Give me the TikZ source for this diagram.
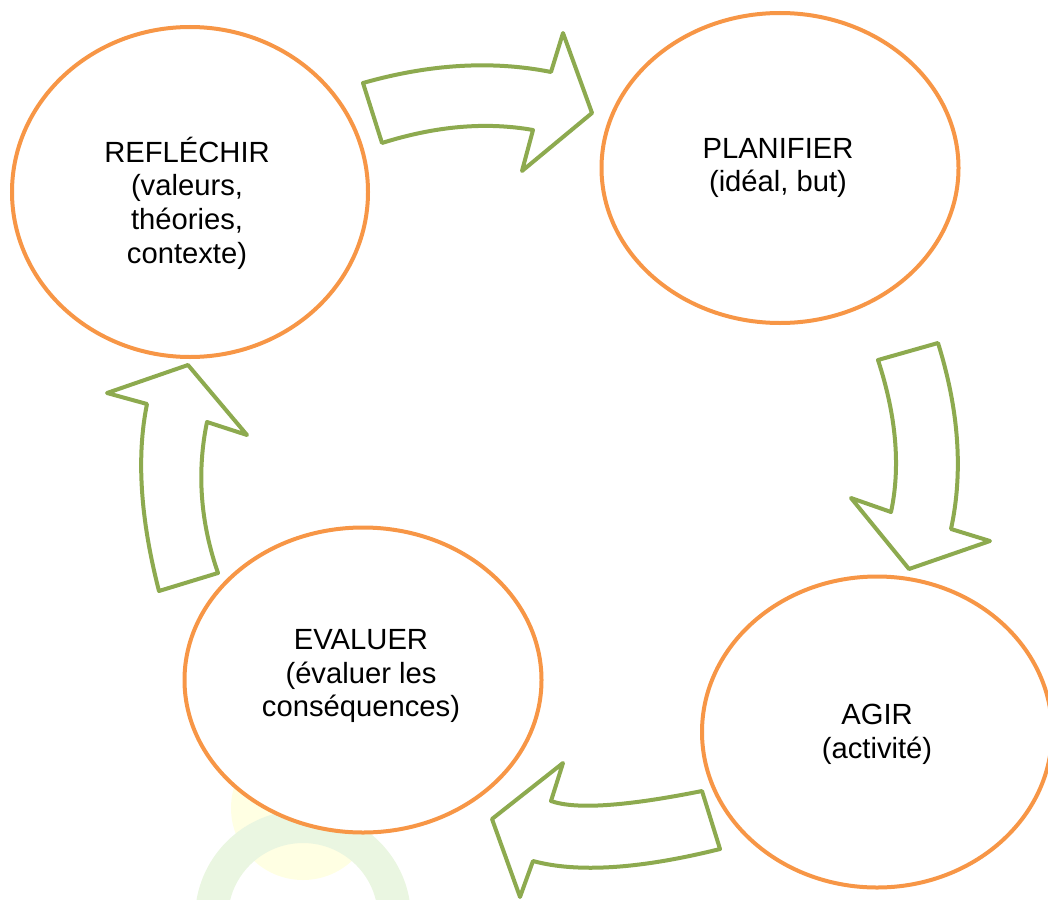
\documentclass[tikz,border=0pt]{standalone}
\usepackage{fontspec}
\setmainfont{Liberation Sans}
\usetikzlibrary{shapes.geometric}
\definecolor{cycleorange}{HTML}{F79646}
\definecolor{arrowgreen}{HTML}{8DAA4F}
\definecolor{paleyellow}{HTML}{FFFFE3}
\definecolor{palegreen}{HTML}{EAF6E1}

\begin{document}
\begin{tikzpicture}[x=1pt, y=-1pt,
  phase/.style={ellipse, draw=cycleorange, line width=4pt, fill=white, inner sep=0pt},
  lbl/.style={align=center, font=\fontsize{29.2}{33.7}\selectfont},
  bigarrow/.style={draw=arrowgreen, line width=4pt, fill=white, line join=round}]
  \useasboundingbox (0,0) rectangle (1048,899);
  \fill[paleyellow] (303,808) circle[radius=72pt];
  \draw[palegreen, line width=33pt] (303,918) circle[radius=91.5pt];
  \node[phase, minimum width=356pt, minimum height=330pt] (reflechir) at (190,192) {};
  \node[phase, minimum width=357pt, minimum height=310pt] (planifier) at (780,168) {};
  \node[phase, minimum width=350pt, minimum height=311pt] (agir) at (877,732) {};
  \node[phase, minimum width=357pt, minimum height=305pt] (evaluer) at (363,680) {};
  \node[lbl] (reflechirtxt) at (187,203) {REFLÉCHIR\\(valeurs,\\théories,\\contexte)};
  \node[lbl] (planifiertxt) at (778,168) {PLANIFIER\\(idéal, but)};
  \node[lbl] (agirtxt) at (877,734) {AGIR\\(activité)};
  \node[lbl] (evaluertxt) at (361,676) {EVALUER\\(évaluer les\\conséquences)};
  \draw[bigarrow] (363,83) -- (382,143) .. controls (435.7,126) and (486,121.7) .. (533,130) -- (522,171)
    -- (592,113) -- (563,33) -- (551,72) .. controls (492.3,60.3) and (429.7,64) .. (363,83) -- cycle;
  \draw[bigarrow] (878,360) -- (938,343) .. controls (959,410.3) and (963.3,472.3) .. (951,529) -- (990,541)
    -- (909,569) -- (851,498) -- (891,512) .. controls (900.7,466.7) and (896.3,416) .. (878,360) -- cycle;
  \draw[bigarrow] (702,791) -- (720,849) .. controls (639.7,869) and (577.3,873) .. (533,861) -- (520,897)
    -- (492,819) -- (563,763) -- (551,801) .. controls (575.3,809.7) and (625.7,806.3) .. (702,791) -- cycle;
  \draw[bigarrow] (218,573) -- (159,591) .. controls (140.3,518.7) and (136.3,456.3) .. (147,404) -- (107,393)
    -- (188,365) -- (247,435) -- (207,422) .. controls (196.7,471.7) and (200.3,522) .. (218,573) -- cycle;
\end{tikzpicture}
\end{document}
